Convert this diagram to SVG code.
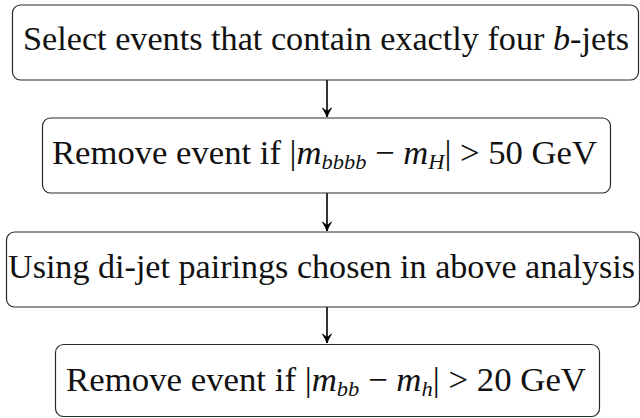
<svg xmlns="http://www.w3.org/2000/svg" width="640" height="418" viewBox="0 0 640 418">
<style>
.box{fill:#fff;stroke:#2a2a2a;stroke-width:1.2}
.t{font-family:'Liberation Serif','Times New Roman',serif;font-size:34px;fill:#111}
.i{font-style:italic}
.s{font-style:italic;font-size:22px}
.c{stroke:#000;stroke-width:1.6;fill:none}
</style>
<defs>
<marker id="arr" markerUnits="userSpaceOnUse" markerWidth="14" markerHeight="14" viewBox="-11 -7 14 14" refX="0" refY="0" orient="auto" overflow="visible">
<path d="M-9,-4.5 Q-3,-1 0,0 Q-3,1 -9,4.5 Q-6,1 -6,0 Q-6,-1 -9,-4.5 Z" fill="#000" stroke="#000" stroke-width="0.8"/>
</marker>
</defs>
<rect width="640" height="418" fill="#fff"/>
<g id="connectors">
<line class="c" x1="327" y1="80" x2="327" y2="117" marker-end="url(#arr)"/>
<line class="c" x1="327" y1="193" x2="327" y2="231" marker-end="url(#arr)"/>
<line class="c" x1="327" y1="307" x2="327" y2="343" marker-end="url(#arr)"/>
</g>
<g id="node1">
<rect class="box" x="12.5" y="5" width="626" height="75" rx="8"/>
<text class="t" x="23" y="50" textLength="606" lengthAdjust="spacingAndGlyphs">Select events that contain exactly four <tspan class="i">b</tspan>-jets</text>
</g>
<g id="node2">
<rect class="box" x="42.5" y="118" width="568" height="75" rx="8"/>
<text class="t" x="52" y="164" textLength="545" lengthAdjust="spacingAndGlyphs">Remove event if |<tspan class="i">m</tspan><tspan class="s" dy="5">bbbb</tspan><tspan dy="-5"> − </tspan><tspan class="i">m</tspan><tspan class="s" dy="5">H</tspan><tspan dy="-5">| &gt; 50 GeV</tspan></text>
</g>
<g id="node3">
<rect class="box" x="6.5" y="232" width="633" height="75" rx="8"/>
<text class="t" x="8" y="278" textLength="627" lengthAdjust="spacingAndGlyphs">Using di-jet pairings chosen in above analysis</text>
</g>
<g id="node4">
<rect class="box" x="55.5" y="344.5" width="544" height="72" rx="8"/>
<text class="t" x="66" y="391" textLength="520" lengthAdjust="spacingAndGlyphs">Remove event if |<tspan class="i">m</tspan><tspan class="s" dy="5">bb</tspan><tspan dy="-5"> − </tspan><tspan class="i">m</tspan><tspan class="s" dy="5">h</tspan><tspan dy="-5">| &gt; 20 GeV</tspan></text>
</g>
</svg>
